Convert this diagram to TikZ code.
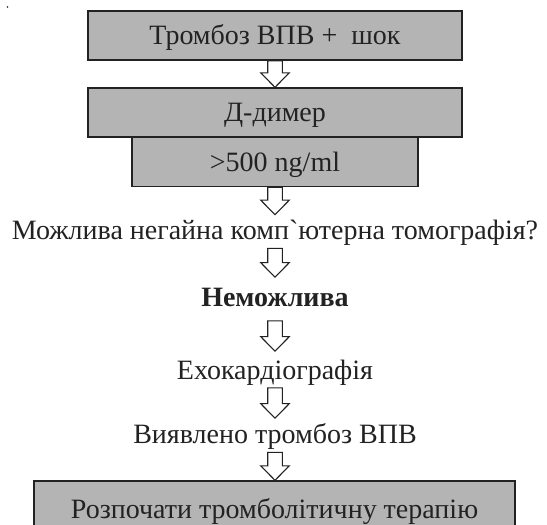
\documentclass[tikz,border=0pt]{standalone}
\usepackage{fontspec}
\setmainfont{Liberation Serif}[Ligatures=TeXOff]
\usetikzlibrary{calc}
\definecolor{boxgray}{RGB}{180,180,180}
\definecolor{inkc}{RGB}{34,34,34}
\tikzset{
  txtfont/.style={font=\fontsize{28}{32}\selectfont, text=inkc},
  grbox/.style={txtfont, draw=inkc, line width=1.4pt, fill=boxgray, inner sep=0pt, text height=18.3pt, text depth=0pt},
  lbl/.style={txtfont, inner sep=0pt, text height=18.3pt, text depth=0pt},
  blk/.style={draw=inkc, line width=1.1pt, fill=white, line join=miter}
}
\newcommand\blkarr[4]{\draw[blk] let \p1=($(#1.south)+(0,#3)$), \p2=($(#2.north)+(0,-#4)$) in
  (\x1-7.3pt,\y1) -- (\x1-7.3pt,\y2+14.5pt) -- (\x1-14.3pt,\y2+14.5pt) -- (\x1,\y2) --
  (\x1+14.3pt,\y2+14.5pt) -- (\x1+7.3pt,\y2+14.5pt) -- (\x1+7.3pt,\y1) -- cycle;}
\begin{document}
\begin{tikzpicture}[x=1pt,y=-1pt]
\useasboundingbox (0,0) rectangle (547,525);
\clip (0,0) rectangle (547,525);
\fill[white] (0,0) rectangle (547,525);
\fill[inkc] (7.5,7) circle (0.8);
\node[grbox, minimum width=374pt, minimum height=49pt] (b1) at (275,35.5) {Тромбоз ВПВ +\hspace{0.5em}шок};
\node[grbox, minimum width=374pt, minimum height=49pt] (b2) at (275,112.5) {Д-димер};
\node[grbox, minimum width=286pt, minimum height=49pt] (b3) at (275,162) {>500 ng/ml};
\node[lbl] (t1) at (275,230) {Можлива негайна комп`ютерна томографія?};
\node[lbl, font=\fontsize{28}{32}\selectfont\bfseries] (t2) at (275,297) {Неможлива};
\node[lbl] (t3) at (275,370) {Ехокардіографія};
\node[lbl] (t4) at (275,434) {Виявлено тромбоз ВПВ};
\node[grbox, minimum width=481pt, minimum height=57pt] (b4) at (274.5,509.5) {Розпочати тромболітичну терапію};
\blkarr{b1}{b2}{0}{0}
\blkarr{b3}{t1}{0}{6}
\blkarr{t1}{t2}{9}{10.5}
\blkarr{t2}{t3}{14.5}{9.5}
\blkarr{t3}{t4}{8.5}{6.5}
\blkarr{t4}{b4}{9}{0}
\end{tikzpicture}
\end{document}
